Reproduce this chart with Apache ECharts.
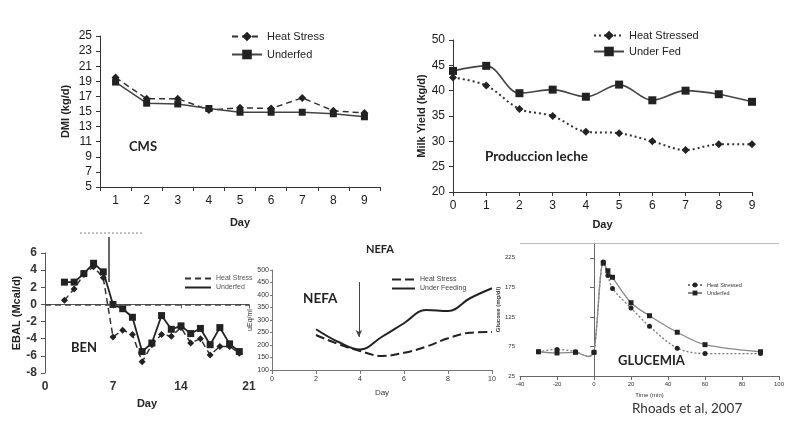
<!DOCTYPE html>
<html><head><meta charset="utf-8">
<script src="https://cdn.jsdelivr.net/npm/echarts@6/dist/echarts.min.js"></script>
<style>html,body{margin:0;padding:0;background:#fff}#c{width:800px;height:426px}</style>
</head><body><div id="c"></div>
<script>
// ---- Panel 1: DMI (CMS)
const dmiDays = ['1','2','3','4','5','6','7','8','9'];
const dmiHeatStress = [19.5,16.7,16.7,15.2,15.5,15.4,16.8,15.1,14.8];
const dmiUnderfed   = [18.9,16.1,16.0,15.4,14.9,14.9,14.9,14.7,14.3];
// ---- Panel 2: Milk yield
const milkDays = [0,1,2,3,4,5,6,7,8,9];
const milkHeatStressed = [42.6,41.0,36.4,35.0,31.9,31.6,30.0,28.3,29.4,29.4];
const milkUnderFed     = [43.9,44.9,39.5,40.2,38.8,41.2,38.1,40.0,39.3,37.8];
// ---- Panel 3: EBAL (BEN)
const ebalDays = [2,3,4,5,6,7,8,9,10,11,12,13,14,15,16,17,18,19,20];
const ebalHeatStress = [0.5,1.8,3.5,4.4,3.1,-3.8,-3.0,-3.5,-6.7,-4.7,-3.5,-3.7,-2.7,-4.5,-4.0,-5.9,-4.9,-4.9,-5.7];
const ebalUnderfed   = [2.6,2.6,3.6,4.8,3.8,0.0,-0.5,-1.5,-5.5,-4.5,-1.3,-2.9,-2.5,-3.4,-2.8,-4.7,-2.7,-4.6,-5.5];
const ebalTickLabels = ['0','7','14','21'];
// ---- Panel 4: NEFA
const nefaDays = [2,3,4,5,6,7,8,9,10];
const nefaHeatStress   = [240,204,176,156,169,193,227,249,252];
const nefaUnderFeeding = [263,213,182,233,287,340,336,387,427];
// ---- Panel 5: Glucose
const glucoseTime = [-30,-20,-10,-3,0,5,7.5,10,20,30,45,60,90];
const glucoseHeatStressed = [66,70,66,58,65,218,195,173,140,109,72,63,63];
const glucoseUnderfed     = [66,64,65,58,65,216,203,192,149,127,99,78,66];
const glucoseCurveOnlyTimes = [-3];

const pair = (xs, ys) => xs.map((x,i)=>[x, ys[i]]);
const glucoseData = ys => glucoseTime.map((t,i)=> glucoseCurveOnlyTimes.includes(t)
   ? {value:[t, ys[i]], symbol:'none'} : [t, ys[i]]);

const F = 'Liberation Sans, Arial, sans-serif';
const B = 'Lato, "Open Sans", sans-serif';
const noLine = {symbol:'none', silent:true, label:{show:false}, emphasis:{disabled:true}};

const chart = echarts.init(document.getElementById('c'), null, {renderer:'canvas'});
const axisBase = (color, size, weight) => ({
  axisLine:{show:true, lineStyle:{color, width:1}},
  axisTick:{show:true, length:4, lineStyle:{color}},
  axisLabel:{color:'#1a1a1a', fontSize:size, fontFamily:F, fontWeight:weight||'normal'},
  splitLine:{show:false}
});

const option = {
  animation:false,
  backgroundColor:'#fff',
  grid:[
    {left:100, top:36, width:280, height:151},
    {left:453, top:40, width:299, height:152},
    {left:45, top:253, width:204, height:120},
    {left:272, top:270, width:220, height:100},
    {left:520, top:243, width:259, height:133}
  ],
  xAxis:[
    Object.assign(axisBase('#333',12), {gridIndex:0, type:'category', data:dmiDays, boundaryGap:true,
      name:'Day', nameLocation:'middle', nameGap:30, nameTextStyle:{fontWeight:'bold', fontSize:11, color:'#222', fontFamily:F}}),
    Object.assign(axisBase('#333',12), {gridIndex:1, type:'value', min:0, max:9, interval:1,
      name:'Day', nameLocation:'middle', nameGap:27, nameTextStyle:{fontWeight:'bold', fontSize:11, color:'#222', fontFamily:F}}),
    Object.assign(axisBase('#555',12,'bold'), {gridIndex:2, type:'value', min:0, max:21, interval:7,
      axisLabel:{color:'#333', fontSize:12, fontWeight:'bold', fontFamily:F, formatter:(v)=>ebalTickLabels[v/7]},
      name:'Day', nameLocation:'middle', nameGap:25, nameTextStyle:{fontWeight:'bold', fontSize:11, color:'#222', fontFamily:F}}),
    Object.assign(axisBase('#777',7), {gridIndex:3, type:'value', min:0, max:10, interval:2,
      axisLabel:{color:'#333', fontSize:7, fontFamily:F, margin:6},
      name:'Day', nameLocation:'middle', nameGap:19, nameTextStyle:{fontSize:8, color:'#333', fontFamily:F}}),
    Object.assign(axisBase('#666',6), {gridIndex:4, type:'value', min:-40, max:100, interval:20,
      axisLabel:{color:'#333', fontSize:6, fontFamily:F, margin:5},
      name:'Time (min)', nameLocation:'middle', nameGap:16, nameTextStyle:{fontSize:6, color:'#333', fontFamily:F}})
  ],
  yAxis:[
    Object.assign(axisBase('#333',12), {gridIndex:0, type:'value', min:5, max:25, interval:2,
      name:'DMI (kg/d)', nameLocation:'middle', nameGap:29, nameTextStyle:{fontWeight:'bold', fontSize:11, color:'#222', fontFamily:F}}),
    Object.assign(axisBase('#333',12), {gridIndex:1, type:'value', min:20, max:50, interval:5,
      name:'Milk Yield (kg/d)', nameLocation:'middle', nameGap:24, nameTextStyle:{fontWeight:'bold', fontSize:11, color:'#222', fontFamily:F}}),
    Object.assign(axisBase('#555',12), {gridIndex:2, type:'value', min:-8, max:6, interval:2,
      axisLabel:{color:'#333', fontSize:12, fontWeight:'bold', fontFamily:F},
      name:'EBAL (Mcal/d)', nameLocation:'middle', nameGap:21, nameTextStyle:{fontWeight:'bold', fontSize:11, color:'#222', fontFamily:F}}),
    Object.assign(axisBase('#777',7), {gridIndex:3, type:'value', min:100, max:500, interval:50,
      axisLabel:{color:'#333', fontSize:7, fontFamily:F, margin:3},
      axisTick:{show:true, length:2, lineStyle:{color:'#777'}},
      name:'uEq/ml', nameLocation:'middle', nameGap:12, nameTextStyle:{fontSize:7, color:'#333', fontFamily:F}}),
    Object.assign(axisBase('#666',6), {gridIndex:4, type:'value', min:25, max:250, interval:50,
      axisLabel:{color:'#333', fontSize:6, fontFamily:F, margin:5, showMaxLabel:false},
      name:'Glucose (mg/dl)', nameLocation:'middle', nameGap:14, nameTextStyle:{fontSize:6, color:'#333', fontWeight:'bold', fontFamily:F}})
  ],
  legend:[
    {data:['Heat Stress','Underfed'], orient:'vertical', left:226, top:26, itemWidth:30, itemHeight:12, itemGap:7,
     textStyle:{fontSize:11, color:'#222', fontFamily:F}, selectedMode:false},
    {data:['Heat Stressed','Under Fed'], orient:'vertical', left:588, top:25, itemWidth:30, itemHeight:12, itemGap:5,
     textStyle:{fontSize:11, color:'#222', fontFamily:F}, selectedMode:false},
    {data:['Heat Stress ','Underfed '], orient:'vertical', left:179, top:270, itemWidth:26, itemHeight:7, itemGap:2,
     itemStyle:{opacity:0},
     textStyle:{fontSize:7, color:'#555', fontFamily:F}, selectedMode:false},
    {data:['Heat Stress  ','Under Feeding'], orient:'vertical', left:386, top:271, itemWidth:23, itemHeight:8, itemGap:2,
     itemStyle:{opacity:0},
     textStyle:{fontSize:7, color:'#444', fontFamily:F}, selectedMode:false},
    {data:['Heat Stressed ','Underfed  '], orient:'vertical', left:682, top:277, itemWidth:14, itemHeight:6, itemGap:2,
     textStyle:{fontSize:5.5, color:'#333', fontFamily:F}, selectedMode:false}
  ],
  series:[
    {name:'Heat Stress', type:'line', xAxisIndex:0, yAxisIndex:0, data:dmiHeatStress,
     symbol:'diamond', symbolSize:8, lineStyle:{color:'#333', width:1.5, type:[6,4]}, itemStyle:{color:'#222'}},
    {name:'Underfed', type:'line', xAxisIndex:0, yAxisIndex:0, data:dmiUnderfed,
     symbol:'rect', symbolSize:7, lineStyle:{color:'#444', width:1.5}, itemStyle:{color:'#222'}},

    {name:'Heat Stressed', type:'line', xAxisIndex:1, yAxisIndex:1, data:pair(milkDays, milkHeatStressed), smooth:0.35,
     symbol:'diamond', symbolSize:8, lineStyle:{color:'#333', width:2, type:[2,3]}, itemStyle:{color:'#222'}},
    {name:'Under Fed', type:'line', xAxisIndex:1, yAxisIndex:1, data:pair(milkDays, milkUnderFed), smooth:0.35,
     symbol:'rect', symbolSize:8, lineStyle:{color:'#444', width:1.6}, itemStyle:{color:'#222'}},

    {name:'Heat Stress ', type:'line', xAxisIndex:2, yAxisIndex:2, data:pair(ebalDays, ebalHeatStress),
     symbol:'diamond', symbolSize:7, lineStyle:{color:'#333', width:1.5, type:[6,4]}, itemStyle:{color:'#222'},
     markLine:Object.assign({data:[{yAxis:0}], lineStyle:{color:'#444', width:1.5, type:[6,4]}}, noLine)},
    {name:'Underfed ', type:'line', xAxisIndex:2, yAxisIndex:2, data:pair(ebalDays, ebalUnderfed),
     symbol:'rect', symbolSize:7, lineStyle:{color:'#222', width:1.8}, itemStyle:{color:'#222'}},

    {name:'Heat Stress  ', type:'line', xAxisIndex:3, yAxisIndex:3, data:pair(nefaDays, nefaHeatStress), smooth:0.4,
     showSymbol:false, symbol:'none', lineStyle:{color:'#222', width:2, type:[9,4]}, itemStyle:{color:'#222'},
     markLine:{symbol:['none','arrow'], symbolSize:[5,7], silent:true, label:{show:false}, emphasis:{disabled:true},
       lineStyle:{color:'#444', width:1, type:'solid'}, data:[[{coord:[3.95,452]},{coord:[3.95,232]}]]}},
    {name:'Under Feeding', type:'line', xAxisIndex:3, yAxisIndex:3, data:pair(nefaDays, nefaUnderFeeding), smooth:0.4,
     showSymbol:false, symbol:'none', lineStyle:{color:'#222', width:2}, itemStyle:{color:'#222'}},

    {name:'Heat Stressed ', type:'line', xAxisIndex:4, yAxisIndex:4, data:glucoseData(glucoseHeatStressed), smooth:0.3,
     symbol:'circle', symbolSize:5, lineStyle:{color:'#777', width:1.3, type:[2,2]}, itemStyle:{color:'#222'},
     markLine:Object.assign({data:[{yAxis:250}], lineStyle:{color:'#bbb', width:1, type:'solid'}}, noLine)},
    {name:'Underfed  ', type:'line', xAxisIndex:4, yAxisIndex:4, data:glucoseData(glucoseUnderfed), smooth:0.3,
     symbol:'rect', symbolSize:5, lineStyle:{color:'#888', width:1.3}, itemStyle:{color:'#222'}}
  ],
  graphic:[
    {type:'text', left:129, top:140, style:{text:'CMS', font:'bold 13px '+B, fill:'#222'}},
    {type:'text', left:485, top:150, style:{text:'Produccion leche', font:'bold 13.5px '+B, fill:'#222'}},
    {type:'text', left:71, top:341, style:{text:'BEN', font:'bold 13px '+B, fill:'#222'}},
    {type:'text', left:303, top:292, style:{text:'NEFA', font:'bold 13.5px '+B, fill:'#222'}},
    {type:'text', left:366, top:244, style:{text:'NEFA', font:'bold 11px '+B, fill:'#222'}},
    {type:'text', left:618, top:354, style:{text:'GLUCEMIA', font:'bold 13px '+B, fill:'#222'}},
    {type:'text', left:632, top:402, style:{text:'Rhoads et al, 2007', font:'13.5px '+B, fill:'#333'}},
    {type:'line', shape:{x1:109, y1:237, x2:109, y2:282}, style:{stroke:'#333', lineWidth:1.5}},
    {type:'line', shape:{x1:80, y1:233, x2:143, y2:233}, style:{stroke:'#aaa', lineWidth:1.5, lineDash:[2,2]}}
  ]
};
chart.setOption(option);
</script></body></html>
